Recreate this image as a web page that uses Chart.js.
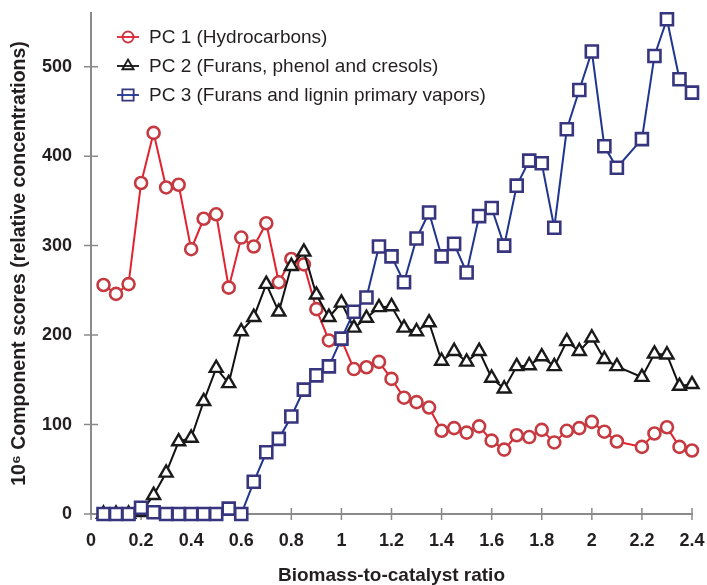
<!DOCTYPE html>
<html>
<head>
<meta charset="utf-8">
<script src="https://cdn.jsdelivr.net/npm/chart.js@4"></script>
<style>
  html, body { margin: 0; padding: 0; background: #fff; }
  #wrap { width: 707px; height: 585px; position: relative; }
</style>
</head>
<body>
<div id="wrap"><canvas id="myChart" width="707" height="585"></canvas></div>
<script>
// biomass-to-catalyst ratio (no sample at 2.15)
const ratios = [0.05, 0.1, 0.15, 0.2, 0.25, 0.3, 0.35, 0.4, 0.45, 0.5,
  0.55, 0.6, 0.65, 0.7, 0.75, 0.8, 0.85, 0.9, 0.95, 1.0,
  1.05, 1.1, 1.15, 1.2, 1.25, 1.3, 1.35, 1.4, 1.45, 1.5,
  1.55, 1.6, 1.65, 1.7, 1.75, 1.8, 1.85, 1.9, 1.95, 2.0,
  2.05, 2.1, 2.2, 2.25, 2.3, 2.35, 2.4];

const pc1 = [256, 246, 257, 370, 426, 365, 368, 296, 330, 335,
  253, 309, 299, 325, 259, 285, 279, 229, 194, 195,
  162, 164, 170, 151, 130, 125, 119, 93, 96, 91,
  98, 82, 72, 88, 86, 94, 80, 93, 96, 103,
  92, 81, 75, 90, 97, 75, 71];

const pc2 = [0, 0, 0, 2, 21, 46, 81, 85, 126, 163,
  146, 204, 220, 257, 226, 277, 293, 245, 220, 236,
  208, 219, 231, 232, 208, 204, 214, 171, 182, 170,
  182, 152, 140, 165, 166, 176, 165, 193, 182, 197,
  173, 165, 153, 179, 178, 143, 145];

const pc3 = [0, 0, 0, 7, 2, 0, 0, 0, 0, 0,
  6, 0, 36, 69, 84, 109, 139, 155, 165, 196,
  226, 242, 299, 288, 259, 308, 337, 288, 302, 270,
  333, 342, 300, 367, 395, 392, 320, 430, 474, 517,
  411, 387, 419, 512, 553, 486, 471];

const seriesNames = ["PC 1 (Hydrocarbons)", "PC 2 (Furans, phenol and cresols)", "PC 3 (Furans and lignin primary vapors)"];
const xTicks = [0, 0.2, 0.4, 0.6, 0.8, 1, 1.2, 1.4, 1.6, 1.8, 2, 2.2, 2.4];
const yTicks = [0, 100, 200, 300, 400, 500];

const FONT = "'Liberation Sans', Arial, Helvetica, sans-serif";
const AXIS_GREY = "#8a8a8a";
const TEXT = "#231f20";

function pts(ys) {
  return ys.map((y, i) => ({ x: ratios[i], y: y }));
}

// no automatic room for overhanging tick labels, the layout padding handles it
function noPad(s) {
  s.paddingTop = 0;
  s.paddingBottom = 0;
  s.paddingLeft = 0;
  s.paddingRight = 0;
}

// tick marks that cross the axis line
const crossTicks = {
  id: "crossTicks",
  beforeDatasetsDraw(chart) {
    const ctx = chart.ctx;
    const xs = chart.scales.x, ys = chart.scales.y;
    const area = chart.chartArea;
    ctx.save();
    ctx.strokeStyle = AXIS_GREY;
    ctx.lineWidth = 1.5;
    ctx.beginPath();
    xs.ticks.forEach(t => {
      const px = xs.getPixelForValue(t.value);
      ctx.moveTo(px, area.bottom - 6);
      ctx.lineTo(px, area.bottom + 6);
    });
    ys.ticks.forEach(t => {
      const py = ys.getPixelForValue(t.value);
      ctx.moveTo(area.left - 7, py);
      ctx.lineTo(area.left + 7, py);
    });
    ctx.stroke();
    ctx.restore();
  }
};

// legend drawn inside the plot, top left
const innerLegend = {
  id: "innerLegend",
  afterDraw(chart) {
    const c = chart.ctx;
    const rows = [37, 66, 95];
    chart.data.datasets.forEach((ds, i) => {
      c.save();
      c.strokeStyle = ds.pointBorderColor;
      c.fillStyle = "rgba(0,0,0,0)";
      c.lineWidth = 1.8;
      Chart.helpers.drawPoint(c, {
        pointStyle: ds.pointStyle,
        radius: ds.legendRadius,
        borderWidth: 1.8,
        rotation: 0
      }, 128, rows[i]);
      c.strokeStyle = ds.borderColor;
      c.beginPath();
      c.moveTo(117, rows[i]);
      c.lineTo(139, rows[i]);
      c.stroke();
      c.fillStyle = TEXT;
      c.font = "19px " + FONT;
      c.textBaseline = "middle";
      c.textAlign = "left";
      c.fillText(ds.label, 149, rows[i] + 1);
      c.restore();
    });
  }
};

const ctx = document.getElementById("myChart").getContext("2d");

const myChart = new Chart(ctx, {
  type: "line",
  data: {
    datasets: [
      {
        label: seriesNames[0],
        data: pts(pc1),
        borderColor: "#e2222f",
        borderWidth: 2,
        pointStyle: "circle",
        pointRadius: 6,
        legendRadius: 5.5,
        pointBorderWidth: 2.6,
        pointBorderColor: "#c53a40",
        pointBackgroundColor: "#ffffff",
        order: 3,
        clip: false,
        tension: 0
      },
      {
        label: seriesNames[1],
        data: pts(pc2),
        borderColor: "#111111",
        borderWidth: 2,
        pointStyle: "triangle",
        pointRadius: 7.5,
        legendRadius: 6.5,
        pointBorderWidth: 2.4,
        pointBorderColor: "#1a1a1a",
        pointBackgroundColor: "#ffffff",
        order: 2,
        clip: false,
        tension: 0
      },
      {
        label: seriesNames[2],
        data: pts(pc3),
        borderColor: "#1f358f",
        borderWidth: 2,
        pointStyle: "rect",
        pointRadius: 8.5,
        legendRadius: 8,
        pointBorderWidth: 2.6,
        pointBorderColor: "#37357e",
        pointBackgroundColor: "#ffffff",
        order: 1,
        clip: false,
        tension: 0
      }
    ]
  },
  options: {
    responsive: false,
    animation: false,
    layout: { padding: { left: 0, right: 15, top: 13, bottom: 0 } },
    scales: {
      x: {
        type: "linear",
        min: 0,
        max: 2.4,
        afterBuildTicks: s => { s.ticks = xTicks.map(v => ({ value: v })); },
        afterFit: s => { s.height = 71; noPad(s); },
        grid: { display: true, drawOnChartArea: false, drawTicks: false },
        border: { display: true, color: AXIS_GREY, width: 2 },
        ticks: {
          padding: 16,
          color: TEXT,
          font: { family: FONT, size: 18, weight: "bold" },
          maxRotation: 0,
          callback: v => String(Number(v.toFixed(1)))
        },
        title: {
          display: true,
          text: "Biomass-to-catalyst ratio",
          color: TEXT,
          font: { family: FONT, size: 19, weight: "bold" },
          padding: { top: 0, bottom: -2 }
        }
      },
      y: {
        type: "linear",
        min: 0,
        max: 560,
        afterBuildTicks: s => { s.ticks = yTicks.map(v => ({ value: v })); },
        afterFit: s => { s.width = 91; noPad(s); },
        grid: { display: true, drawOnChartArea: false, drawTicks: false },
        border: { display: true, color: AXIS_GREY, width: 2 },
        ticks: {
          padding: 19,
          color: TEXT,
          font: { family: FONT, size: 18, weight: "bold" }
        },
        title: {
          display: true,
          text: "10\u2076 Component scores (relative concentrations)",
          color: TEXT,
          font: { family: FONT, size: 19.5, weight: "bold" },
          padding: { top: 8, bottom: 0 }
        }
      }
    },
    plugins: {
      legend: { display: false },
      title: { display: false },
      tooltip: { enabled: false }
    }
  },
  plugins: [crossTicks, innerLegend]
});
</script>
</body>
</html>
